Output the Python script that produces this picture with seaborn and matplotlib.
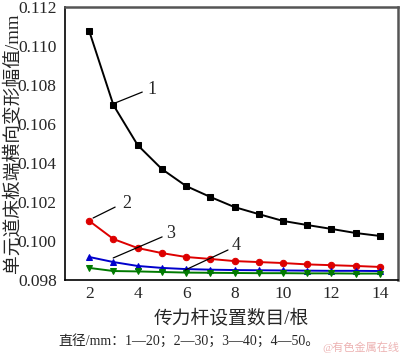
import matplotlib
matplotlib.use("Agg")
import matplotlib.pyplot as plt
import seaborn as sns
import pandas as pd

counts = [2, 3, 4, 5, 6, 7, 8, 9, 10, 11, 12, 13, 14]
d20 = [0.11077, 0.10697, 0.10492, 0.10369, 0.10282, 0.10226, 0.10174, 0.10138, 0.10103, 0.10082, 0.10062, 0.10041, 0.10026]
d30 = [0.10103, 0.10010, 0.09964, 0.09938, 0.09918, 0.09908, 0.09897, 0.09892, 0.09887, 0.09880, 0.09876, 0.09872, 0.09867]
d40 = [0.09918, 0.09892, 0.09872, 0.09862, 0.09856, 0.09853, 0.09851, 0.09850, 0.09849, 0.09848, 0.09847, 0.09847, 0.09846]
d50 = [0.09862, 0.09846, 0.09844, 0.09841, 0.09838, 0.09837, 0.09836, 0.09835, 0.09835, 0.09834, 0.09834, 0.09833, 0.09833]
series_names = ["1", "2", "3", "4"]
series_values = [d20, d30, d40, d50]
colors = ["#000000", "#dd0000", "#0000cc", "#007a00"]
markers = ["s", "o", "^", "v"]
yticks = [0.098, 0.100, 0.102, 0.104, 0.106, 0.108, 0.110, 0.112]
xticks = [2, 4, 6, 8, 10, 12, 14]

sns.set_style("white")
plt.rcParams["font.family"] = ["Liberation Serif", "Noto Sans CJK SC", "DejaVu Sans"]

fig = plt.figure(figsize=(4.0, 3.53), dpi=100)
ax = fig.add_axes([0.1625, 0.2068, 0.8325, 0.7732])

for name, vals, c, m in zip(series_names, series_values, colors, markers):
    df = pd.DataFrame({"n": counts, "v": vals})
    sns.lineplot(data=df, x="n", y="v", ax=ax, color=c, marker=m, markersize=4.6,
                 markeredgecolor=c, markerfacecolor=c, linewidth=1.4, legend=False)

ax.set_xlim(1.0, 14.75)
ax.set_ylim(0.098, 0.112)
ax.set_xticks(xticks)
ax.set_yticks(yticks)
ax.set_yticklabels([f"{v:.3f}" for v in yticks])
ax.tick_params(axis="x", direction="in", length=4, labelsize=12.5, pad=4, width=1)
ax.tick_params(axis="y", direction="out", length=4, labelsize=12.5, pad=2, width=1)
ax.set_xlabel("")
ax.set_ylabel("")
for s in ["left", "bottom"]:
    ax.spines[s].set_color("black")
    ax.spines[s].set_linewidth(1.2)
for s in ["top", "right"]:
    ax.spines[s].set_color("#555555")
    ax.spines[s].set_linewidth(1.8)

fig.text(0.5775, 1 - 318 / 353, "传力杆设置数目/根", ha="center", va="center", fontsize=13.5)
fig.text(0.03, 1 - 143 / 353, "单元道床板端横向变形幅值/mm", ha="center", va="center",
         rotation=90, fontsize=13.5)
fig.text(0.145, 1 - 341 / 353, "直径/mm：1—20；2—30；3—40；4—50。", ha="left", va="center",
         fontsize=10.0)
fig.text(0.998, 1 - 347 / 353, "@有色金属在线", ha="right", va="center", fontsize=8.0,
         color="#e8a0a0", alpha=0.8)

ann = [("1", (3.07, 0.10708), (4.19, 0.10764), (4.39, 0.10776)),
       ("2", (2.16, 0.10118), (3.07, 0.10174), (3.36, 0.10190)),
       ("3", (2.99, 0.09913), (5.01, 0.10021), (5.18, 0.10041)),
       ("4", (5.96, 0.09851), (7.73, 0.09954), (7.90, 0.09979))]
for lab, p0, p1, pt in ann:
    ax.annotate("", xy=p0, xytext=p1,
                arrowprops=dict(arrowstyle="-", color="black", lw=0.9, shrinkA=0, shrinkB=0))
    ax.text(pt[0], pt[1], lab, fontsize=13, ha="left", va="center")

fig.savefig("out.png", dpi=100)
